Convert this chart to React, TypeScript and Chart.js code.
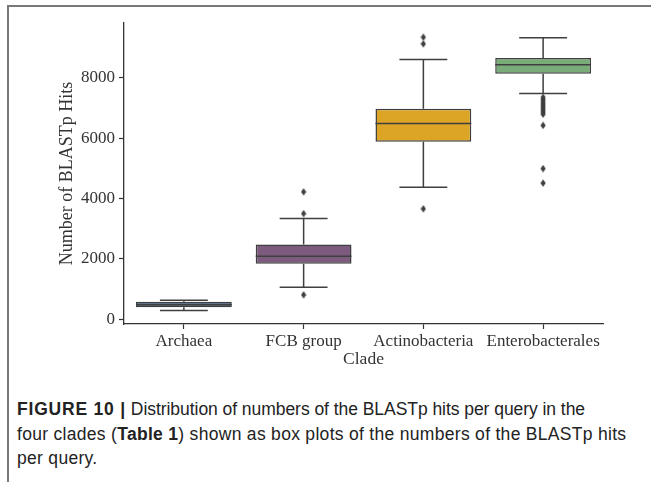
import React, { useEffect, useRef } from "react";
import { Chart, registerables } from "chart.js";

Chart.register(...registerables);

const categories = ["Archaea", "FCB group", "Actinobacteria", "Enterobacterales"];
const whiskerLow = [290, 1060, 4370, 7480];
const q1 = [400, 1840, 5880, 8130];
const median = [480, 2090, 6480, 8430];
const q3 = [580, 2480, 6975, 8650];
const whiskerHigh = [630, 3340, 8600, 9320];
const outliersArchaea: number[] = [];
const outliersFCB = [4220, 3500, 810];
const outliersActino = [9340, 9120, 3660];
const outliersEntero = [7350, 7280, 7210, 7140, 7070, 7000, 6930, 6860, 6790, 6420, 4990, 4510];
const yTicks = [0, 2000, 4000, 6000, 8000];
const boxColors = ["#3b5677", "#7c5b7e", "#dda526", "#79ac78"];

const LINE = "#3f3f3f";
const SERIF = "'Liberation Serif', 'DejaVu Serif', serif";

function makeDiamond(): HTMLCanvasElement {
  const c = document.createElement("canvas");
  c.width = 6;
  c.height = 8;
  const ctx = c.getContext("2d")!;
  ctx.fillStyle = LINE;
  ctx.beginPath();
  ctx.moveTo(3, 0.3);
  ctx.lineTo(5.6, 4);
  ctx.lineTo(3, 7.7);
  ctx.lineTo(0.4, 4);
  ctx.closePath();
  ctx.fill();
  return c;
}

export default function App() {
  const ref = useRef<HTMLCanvasElement | null>(null);

  useEffect(() => {
    if (!ref.current) return;
    const allOutliers = [outliersArchaea, outliersFCB, outliersActino, outliersEntero];
    const whiskerPts: { x: number; y: number | null }[] = [];
    categories.forEach((_, i) => {
      whiskerPts.push({ x: i, y: q3[i] }, { x: i, y: whiskerHigh[i] }, { x: i, y: null });
      whiskerPts.push({ x: i - 0.2, y: whiskerHigh[i] }, { x: i + 0.2, y: whiskerHigh[i] }, { x: i, y: null });
      whiskerPts.push({ x: i, y: q1[i] }, { x: i, y: whiskerLow[i] }, { x: i, y: null });
      whiskerPts.push({ x: i - 0.2, y: whiskerLow[i] }, { x: i + 0.2, y: whiskerLow[i] }, { x: i, y: null });
      whiskerPts.push({ x: i - 0.4, y: median[i] }, { x: i + 0.4, y: median[i] }, { x: i, y: null });
    });
    const outlierPts: { x: number; y: number }[] = [];
    allOutliers.forEach((arr, i) => arr.forEach((v) => outlierPts.push({ x: i, y: v })));
    const diamond = makeDiamond();

    const chart = new Chart(ref.current, {
      type: "bar",
      data: {
        datasets: [
          {
            type: "bar",
            data: categories.map((_, i) => ({ x: i, y: [q1[i], q3[i]] })) as any,
            backgroundColor: boxColors,
            borderColor: LINE,
            borderWidth: 1.5,
            borderSkipped: false,
            barPercentage: 0.8,
            categoryPercentage: 1.0,
            order: 2,
          } as any,
          {
            type: "line",
            data: whiskerPts as any,
            borderColor: LINE,
            borderWidth: 1.5,
            pointRadius: 0,
            spanGaps: false,
            fill: false,
            order: 1,
          } as any,
          {
            type: "scatter",
            data: outlierPts as any,
            pointStyle: diamond as any,
            pointRadius: 3,
            backgroundColor: LINE,
            borderColor: LINE,
            order: 0,
          } as any,
        ],
      },
      options: {
        responsive: false,
        animation: false,
        events: [],
        layout: { padding: { left: 0, top: 23, right: 48, bottom: 0 } },
        plugins: { legend: { display: false }, tooltip: { enabled: false } },
        scales: {
          x: {
            type: "linear",
            min: -0.5,
            max: 3.5,
            offset: false,
            afterBuildTicks: (s: any) => {
              s.ticks = categories.map((_, i) => ({ value: i }));
            },
            afterFit: (s: any) => {
              s.height = 56;
            },
            ticks: {
              autoSkip: false,
              maxRotation: 0,
              padding: 2,
              color: "#333",
              font: { family: SERIF, size: 17 },
              callback: (v: any) => categories[Math.round(Number(v))] ?? "",
            },
            grid: {
              offset: false,
              drawOnChartArea: false,
              drawTicks: true,
              tickLength: 5,
              tickColor: "#333",
              tickWidth: 1.2,
            },
            border: { display: true, color: "#333", width: 1.3 },
            title: {
              display: true,
              text: "Clade",
              color: "#333",
              font: { family: SERIF, size: 17.5 },
              padding: { top: 0, bottom: 10 },
            },
          },
          y: {
            type: "linear",
            min: -155,
            max: 9810,
            afterBuildTicks: (s: any) => {
              s.ticks = yTicks.map((v) => ({ value: v }));
            },
            afterFit: (s: any) => {
              s.width = 124;
            },
            ticks: {
              padding: 4,
              color: "#333",
              font: { family: SERIF, size: 17 },
              callback: (v: any) => String(v),
            },
            grid: {
              offset: false,
              drawOnChartArea: false,
              drawTicks: true,
              tickLength: 5,
              tickColor: "#333",
              tickWidth: 1.2,
            },
            border: { display: true, color: "#333", width: 1.3 },
            title: {
              display: true,
              text: "Number of BLASTp Hits",
              color: "#333",
              font: { family: SERIF, size: 18 },
              padding: { top: 56, bottom: 0 },
            },
          },
        },
      },
    });
    return () => chart.destroy();
  }, []);

  return (
    <div style={{ position: "absolute", left: 0, top: 0, width: 651, height: 482, background: "#fff", overflow: "hidden" }}>
      <div style={{ position: "absolute", left: 7, top: 5, width: 644, height: 1.5, background: "#777" }} />
      <div style={{ position: "absolute", left: 7, top: 5, width: 1.5, height: 477, background: "#777" }} />
      <canvas ref={ref} width={651} height={380} style={{ position: "absolute", left: 0, top: 0, width: 651, height: 380 }} />
      <div
        style={{
          position: "absolute",
          left: 17,
          top: 397,
          width: 634,
          fontFamily: "'Liberation Sans', Arial, sans-serif",
          fontSize: 17.5,
          lineHeight: "24.5px",
          color: "#222",
          whiteSpace: "nowrap",
        }}
      >
        <span style={{ letterSpacing: "-0.05px" }}>
          <b style={{ letterSpacing: "0.8px" }}>FIGURE 10 |</b> Distribution of numbers of the BLASTp hits per query in the
        </span>
        <br />
        <span style={{ letterSpacing: "0.3px" }}>
          four clades (<b>Table 1</b>) shown as box plots of the numbers of the BLASTp hits
        </span>
        <br />
        <span style={{ letterSpacing: "0.3px" }}>per query.</span>
      </div>
    </div>
  );
}
